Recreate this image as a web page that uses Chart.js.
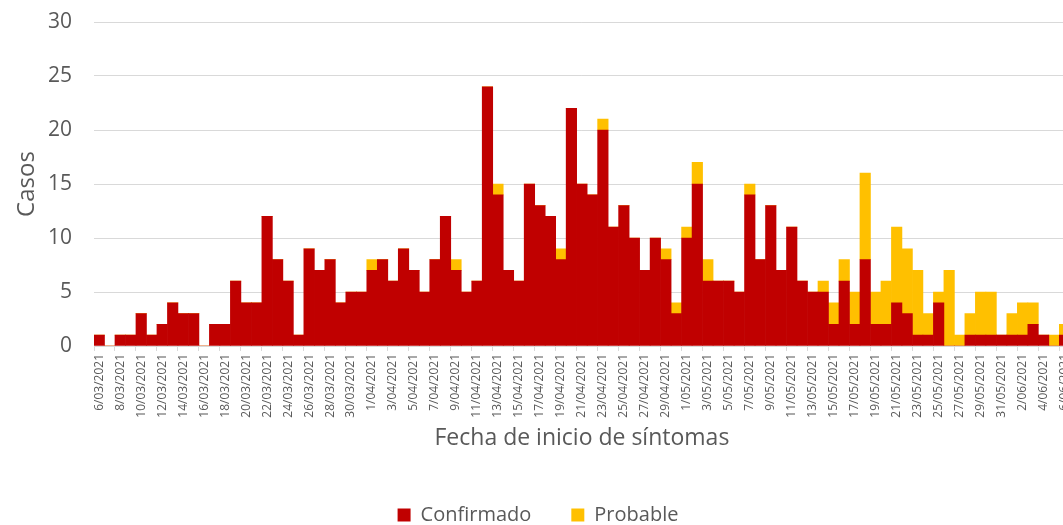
<!DOCTYPE html>
<html>
<head>
<meta charset="utf-8">
<script src="https://cdn.jsdelivr.net/npm/chart.js@4.4.0/dist/chart.umd.min.js"></script>
<style>
  html, body { margin: 0; padding: 0; background: #fff; overflow: hidden; }
  #wrap { position: absolute; left: 0; top: 0; width: 1082px; height: 525px; }
</style>
</head>
<body>
<div id="wrap"><canvas id="chart"></canvas></div>
<script>
// Daily cases from 6/03/2021 to 6/06/2021
const startDay = new Date(2021, 2, 6);
const dayCount = 93;

const confirmado = [
  1, 0, 1, 1, 3, 1, 2, 4, 3, 3,
  0, 2, 2, 6, 4, 4, 12, 8, 6, 1,
  9, 7, 8, 4, 5, 5, 7, 8, 6, 9,
  7, 5, 8, 12, 7, 5, 6, 24, 14, 7,
  6, 15, 13, 12, 8, 22, 15, 14, 20, 11,
  13, 10, 7, 10, 8, 3, 10, 15, 6, 6,
  6, 5, 14, 8, 13, 7, 11, 6, 5, 5,
  2, 6, 2, 8, 2, 2, 4, 3, 1, 1,
  4, 0, 0, 1, 1, 1, 1, 1, 1, 2,
  1, 0, 1
];

const probable = [
  0, 0, 0, 0, 0, 0, 0, 0, 0, 0,
  0, 0, 0, 0, 0, 0, 0, 0, 0, 0,
  0, 0, 0, 0, 0, 0, 1, 0, 0, 0,
  0, 0, 0, 0, 1, 0, 0, 0, 1, 0,
  0, 0, 0, 0, 1, 0, 0, 0, 1, 0,
  0, 0, 0, 0, 1, 1, 1, 2, 2, 0,
  0, 0, 1, 0, 0, 0, 0, 0, 0, 1,
  2, 2, 3, 8, 3, 4, 7, 6, 6, 2,
  1, 7, 1, 2, 4, 4, 0, 2, 3, 2,
  0, 1, 1
];

const yTicks = [0, 5, 10, 15, 20, 25, 30];

// Build the category labels d/mm/yyyy
const fechas = [];
for (let i = 0; i < dayCount; i++) {
    const d = new Date(startDay);
    d.setDate(startDay.getDate() + i);
    const mm = String(d.getMonth() + 1).padStart(2, '0');
    fechas.push(d.getDate() + '/' + mm + '/' + d.getFullYear());
}

const textColor = '#595959';
const gridColor = '#d9d9d9';
const fontName = "'Open Sans', sans-serif";

const ctx = document.getElementById('chart').getContext('2d');
new Chart(ctx, {
    type: 'bar',
    data: {
        labels: fechas,
        datasets: [{
            label: 'Confirmado',
            data: confirmado,
            backgroundColor: '#C00000',
            borderWidth: 0,
            barPercentage: 1,
            categoryPercentage: 1
        }, {
            label: 'Probable',
            data: probable,
            backgroundColor: '#FFC000',
            borderWidth: 0,
            barPercentage: 1,
            categoryPercentage: 1
        }]
    },
    options: {
        responsive: true,
        maintainAspectRatio: false,
        animation: false,
        layout: { padding: { top: 22, right: 6, bottom: -10, left: 0 } },
        plugins: {
            tooltip: { enabled: false },
            legend: {
                position: 'bottom',
                labels: {
                    boxWidth: 13,
                    boxHeight: 13,
                    padding: 40,
                    color: textColor,
                    font: { family: fontName, size: 20 }
                }
            }
        },
        scales: {
            x: {
                stacked: true,
                afterFit: scale => { scale.height = 119; },
                border: { color: gridColor, width: 1 },
                grid: {
                    drawOnChartArea: false,
                    tickLength: 5,
                    color: c => (c.index % 2 === 0 ? gridColor : 'rgba(0,0,0,0)')
                },
                ticks: {
                    autoSkip: false,
                    minRotation: 90,
                    maxRotation: 90,
                    padding: 3,
                    color: textColor,
                    font: { family: fontName, size: 12 },
                    callback: function (value, index) {
                        return index % 2 === 0 ? fechas[index] : '';
                    }
                },
                title: {
                    display: true,
                    text: 'Fecha de inicio de síntomas',
                    color: textColor,
                    font: { family: fontName, size: 23 },
                    padding: { top: 0, bottom: 13 }
                }
            },
            y: {
                stacked: true,
                min: 0,
                max: 30,
                afterFit: scale => { scale.width = 94; },
                afterBuildTicks: scale => { scale.ticks = yTicks.map(v => ({ value: v })); },
                border: { display: false },
                grid: {
                    color: gridColor,
                    lineWidth: 1,
                    drawTicks: true,
                    tickLength: 19,
                    tickColor: 'rgba(0,0,0,0)'
                },
                ticks: {
                    padding: 3,
                    color: textColor,
                    font: { family: fontName, size: 21 }
                },
                title: {
                    display: true,
                    text: 'Casos',
                    color: textColor,
                    font: { family: fontName, size: 24 },
                    padding: { top: 13, bottom: 0 }
                }
            }
        }
    }
});
</script>
</body>
</html>
